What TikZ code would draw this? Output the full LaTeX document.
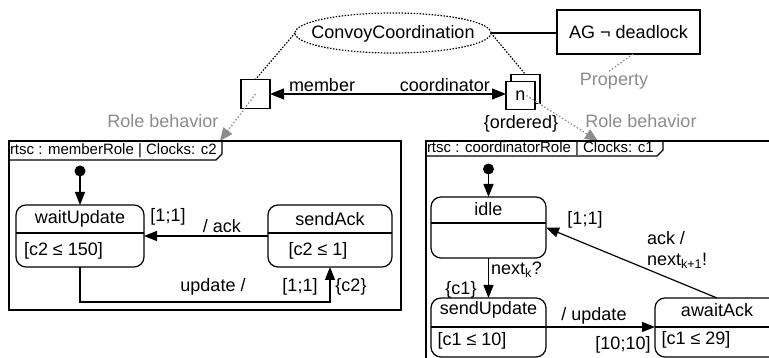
\documentclass[tikz,border=0pt]{standalone}
\usepackage{fontspec}
\setmainfont{Liberation Sans}
\usetikzlibrary{arrows.meta,shapes.geometric}
\begin{document}
\begin{tikzpicture}[x=1pt,y=-1pt,
  every node/.style={inner sep=0pt, outer sep=0pt, font=\fontsize{18}{20}\selectfont},
  lw/.style={line width=1.2pt},
  statebox/.style={draw, lw, rounded corners=10pt, rectangle},
  port/.style={draw, lw, fill=white, rectangle},
  tip/.style={lw, -{Triangle[length=13pt,width=10pt]}},
  graydot/.style={draw=black!45, line width=1.2pt, dash pattern=on 1.5pt off 2pt, -{Triangle[length=13pt,width=11pt,fill=black!45]}},
  blackdot/.style={line width=1.2pt, dash pattern=on 1.5pt off 1.5pt},
  graytext/.style={text=black!45},
  tagtext/.style={font=\fontsize{15}{17}\selectfont, anchor=west},
  initdot/.style={circle, fill, minimum size=11pt}
]
\useasboundingbox (0,0) rectangle (769,358);
\clip (0,0) rectangle (769,358);

% ---------- top part ----------
\node[ellipse, draw, blackdot, minimum width=196pt, minimum height=40pt] (cc) at (393,33) {};
\node at (393,34) {ConvoyCoordination};
\node[draw, lw, minimum width=143pt, minimum height=44pt] (ag) at (628.5,32) {AG ¬ deadlock};
\draw[lw] (cc.east) -- (cc.east -| ag.west);

\node[port, minimum width=29pt, minimum height=29pt] (member) at (255.5,94) {};
\node[port, minimum width=29pt, minimum height=29pt] (nsh) at (525.5,89) {};
\node[port, minimum width=29pt, minimum height=28pt] (n) at (520.5,95.5) {n};

\draw[blackdot] (cc.west) -- (member.north);
\draw[blackdot] (cc.east) -- (nsh.north);

\draw[lw, {Triangle[length=14pt,width=11pt]}-{Triangle[length=14pt,width=11pt]}] (member.east) -- (member.east -| n.west);
\node[anchor=base west] (memberlbl) at (289,92) {member};
\node[anchor=base east] (coordlbl) at (490,92) {coordinator};
\node (ordered) at (521,124) {\{ordered\}};

\coordinate (propend) at (608,72);
\draw[graydot, -] (ag.south -| 633,0) -- (propend);
\node[graytext] (prop) at (614,81) {Property};

% role behaviour arrows
\coordinate (lrb) at (220,141);
\coordinate (rrb) at (598,141);
\draw[graydot] (member.center) -- (lrb);
\draw[graydot] ([xshift=6pt]n.center) -- (rrb);
\node[graytext] (lrbl) at (163,121) {Role behavior};
\node[graytext] (rrbl) at (641,121) {Role behavior};

% ---------- left RTSC ----------
\draw[lw] (9,141) rectangle (401,310);
\draw[lw] (9,160) -- (216,160) -- (222,154) -- (222,141);
\node[tagtext] (ltag) at (10,151) {rtsc : memberRole | Clocks: c2};

\node[initdot] (mi) at (80,171) {};
\node[statebox, minimum width=128pt, minimum height=62pt] (wait) at (80,236) {};
\draw[lw] (wait.west |- 0,233) -- (wait.east |- 0,233);
\node (waitT) at (80,219) {waitUpdate};
\node[anchor=west] (waitI) at (24,251) {[c2 ≤ 150]};

\node[statebox, minimum width=124pt, minimum height=62pt] (send) at (330,236) {};
\draw[lw] (send.west |- 0,233) -- (send.east |- 0,233);
\node (sendT) at (330,219) {sendAck};
\node (sendI) at (318,251) {[c2 ≤ 1]};

\draw[tip] (mi) -- (wait.north);
\draw[tip] (send.west) -- (wait.east);
\node (l1) at (168,217) {[1;1]};
\node (l2) at (222,226) {/ ack};

\coordinate (bl) at (80,302);
\coordinate (br) at (330,302);
\draw[tip] (wait.south) -- (bl) -- (br) -- (send.south);
\node (l3) at (213,287) {update /};
\node (l4) at (300,287) {[1;1]};
\node (l5) at (351,287) {\{c2\}};

% ---------- right RTSC ----------
\draw[lw] (426,141) rectangle (800,400);
\draw[lw] (426,156) -- (657,156) -- (663,150) -- (663,141);
\node[tagtext] (rtag) at (427,149) {rtsc : coordinatorRole | Clocks: c1};

\node[initdot] (ci) at (488.5,169) {};
\node[statebox, minimum width=115pt, minimum height=61pt] (idle) at (488.5,227.5) {};
\draw[lw] (idle.west |- 0,223) -- (idle.east |- 0,223);
\node (idleT) at (488.5,209) {idle};

\node[statebox, minimum width=115pt, minimum height=59pt] (su) at (488.5,327.5) {};
\draw[lw] (su.west |- 0,327) -- (su.east |- 0,327);
\node (suT) at (488.5,310) {sendUpdate};
\node (suI) at (472,341) {[c1 ≤ 10]};

\node[statebox, minimum width=124pt, minimum height=59pt] (aa) at (717,327.5) {};
\draw[lw] (aa.west |- 0,327) -- (aa.east |- 0,327);
\node (aaT) at (717,310) {awaitAck};
\node (aaI) at (696,340) {[c1 ≤ 29]};

\draw[tip] (ci) -- (idle.north);
\draw[tip] (idle.south) -- (su.north);
\node[anchor=west] (r1) at (491,270) {next\textsubscript{k}?};
\node (r2) at (461,290) {\{c1\}};

\draw[tip] (su.east |- 0,327) -- (aa.west |- 0,327);
\node (r3) at (594,316) {/ update};
\node (r4) at (623,345) {[10;10]};

\draw[tip] (aa.north) -- (idle.east);
\node (r5) at (585,220) {[1;1]};
\node[anchor=west] (r6) at (647,238) {ack /};
\node[anchor=west] (r7) at (647,261) {next\textsubscript{k+1}!};
\end{tikzpicture}
\end{document}
